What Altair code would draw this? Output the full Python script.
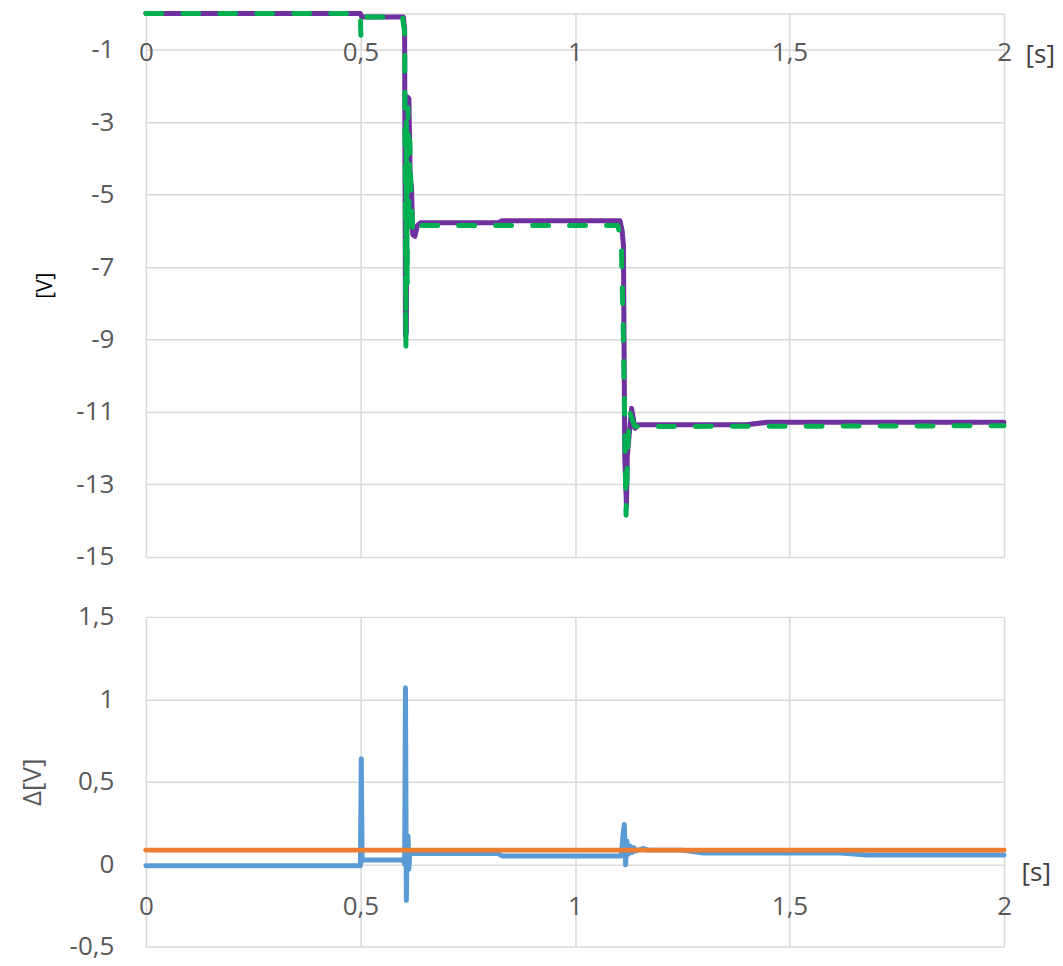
import altair as alt
import pandas as pd

# ---- data ----
purple_t = [0, 0.5, 0.503, 0.6, 0.603, 0.605, 0.607, 0.609, 0.613, 0.616, 0.619, 0.622, 0.627,
            0.633, 0.64, 0.82, 0.83, 1.105, 1.11, 1.113, 1.116, 1.12, 1.122, 1.132, 1.14, 1.148,
            1.4, 1.45, 2.0]
purple_v = [0, 0, -0.1, -0.1, -0.4, -8.9, -8.8, -2.3, -2.35, -4.5, -4.8, -6.1, -6.15,
            -5.85, -5.78, -5.78, -5.72, -5.72, -6.0, -6.4, -12.2, -13.6, -12.2, -10.9, -11.45, -11.35,
            -11.35, -11.28, -11.28]

green_t = [0, 0.5, 0.501, 0.505, 0.598, 0.603, 0.606, 0.607, 0.609, 0.611, 0.613, 0.615, 0.618,
           0.622, 0.627, 0.635, 0.645, 1.1, 1.108, 1.113, 1.119, 1.123, 1.128, 1.133, 1.14, 1.15, 2.0]
green_v = [0, 0, -0.6, -0.1, -0.1, -0.5, -9.25, -3.0, -7.5, -2.6, -5.5, -3.5, -5.0,
           -6.0, -6.1, -5.85, -5.85, -5.85, -6.3, -9.0, -13.85, -12.0, -11.0, -11.2, -11.4, -11.4, -11.38]

blue_t = [0, 0.5, 0.502, 0.504, 0.507, 0.6, 0.603, 0.605, 0.607, 0.609, 0.611, 0.613, 0.615,
          0.62, 0.65, 0.82, 0.83, 1.108, 1.112, 1.115, 1.118, 1.121, 1.124, 1.128, 1.133, 1.137,
          1.142, 1.16, 1.17, 1.25, 1.3, 1.62, 1.68, 2.0]
blue_v = [-0.01, -0.01, 0.64, 0.02, 0.025, 0.025, 0.0, 1.07, -0.22, 0.1, 0.17, -0.03, 0.08,
          0.065, 0.065, 0.065, 0.05, 0.05, 0.18, 0.24, -0.005, 0.14, 0.06, 0.11, 0.07, 0.1,
          0.08, 0.095, 0.085, 0.085, 0.068, 0.068, 0.055, 0.055]

orange_t = [0, 2]
orange_v = [0.085, 0.085]

x_ticks = [0, 0.5, 1, 1.5, 2]
top_y_ticks = [-15, -13, -11, -9, -7, -5, -3, -1, 0]
bottom_y_ticks = [-0.5, 0, 0.5, 1, 1.5]


def frame(t, v):
    return pd.DataFrame({"t": t, "v": v, "i": list(range(len(t)))})


W = 859
H1 = 544
H2 = 330
FONT = "Open Sans"
FS = 26
GRID = "#d9d9d9"
LABEL = "#595959"
NUM = "replace(replace(datum.label, '.', ','), '\u2212', '-')"


def x_axis(offset, pad, tx, ty):
    return alt.Axis(orient="bottom", offset=offset, values=x_ticks, format="~g", labelExpr=NUM,
                    ticks=False, domain=False, labelPadding=pad, labelFontSize=FS,
                    labelColor=LABEL, labelFont=FONT, labelFlush=False, labelOverlap=False,
                    title="[s]", titleX=tx, titleY=ty, titleAlign="left",
                    titleBaseline="middle", titleFontSize=FS, titleColor="#404040",
                    titleFont=FONT, titleFontWeight="normal",
                    grid=True, gridColor=GRID, gridWidth=1.5)


def line(df, color, dash=None, y_scale=None, x_ax=None, y_ax=None):
    kw = dict(color=color, strokeWidth=5, strokeCap="round", strokeJoin="round")
    if dash is not None:
        kw["strokeDash"] = dash
    xk = dict(scale=alt.Scale(domain=[0, 2], nice=False))
    if x_ax is not None:
        xk["axis"] = x_ax
    yk = dict(scale=y_scale)
    if y_ax is not None:
        yk["axis"] = y_ax
    return alt.Chart(df).mark_line(**kw).encode(
        x=alt.X("t:Q", **xk),
        y=alt.Y("v:Q", **yk),
        order=alt.Order("i:Q"),
    )


top_x_axis = x_axis(-H1, 26, 880, 41)
top_y_axis = alt.Axis(values=top_y_ticks, format="~g",
                      labelExpr="datum.value == 0 ? '' : " + NUM,
                      ticks=False, domain=False, labelPadding=32, labelFontSize=FS,
                      labelColor=LABEL, labelFont=FONT,
                      title="[V]", titleFontSize=21, titleColor="#000000", titleFont=FONT,
                      titleFontWeight="normal", titlePadding=20,
                      grid=True, gridColor=GRID, gridWidth=1.5)
top_scale = alt.Scale(domain=[-15, 0], nice=False)

top = alt.layer(
    line(frame(purple_t, purple_v), "#7030A0", y_scale=top_scale, x_ax=top_x_axis, y_ax=top_y_axis),
    line(frame(green_t, green_v), "#00B050", dash=[16, 21], y_scale=top_scale),
).properties(width=W, height=H1)

bot_x_axis = x_axis(-H2 * 0.25, 29, 876, 8)
bot_y_axis = alt.Axis(values=bottom_y_ticks, format="~g", labelExpr=NUM,
                      ticks=False, domain=False, labelPadding=32, labelFontSize=FS,
                      labelColor=LABEL, labelFont=FONT,
                      title="Δ[V]", titleFontSize=FS, titleColor=LABEL, titleFont=FONT,
                      titleFontWeight="normal", titlePadding=24,
                      grid=True, gridColor=GRID, gridWidth=1.5)
bot_scale = alt.Scale(domain=[-0.5, 1.5], nice=False)

bottom = alt.layer(
    line(frame(blue_t, blue_v), "#5B9BD5", y_scale=bot_scale, x_ax=bot_x_axis, y_ax=bot_y_axis),
    line(frame(orange_t, orange_v), "#ED7D31", y_scale=bot_scale),
).properties(width=W, height=H2)

chart = alt.vconcat(top, bottom, spacing=32).properties(
    padding={"top": 2, "left": 10, "right": 0, "bottom": 3},
    background="white",
).configure_view(stroke="transparent")

chart.save("out.html", embed_options={"renderer": "svg", "actions": False})
